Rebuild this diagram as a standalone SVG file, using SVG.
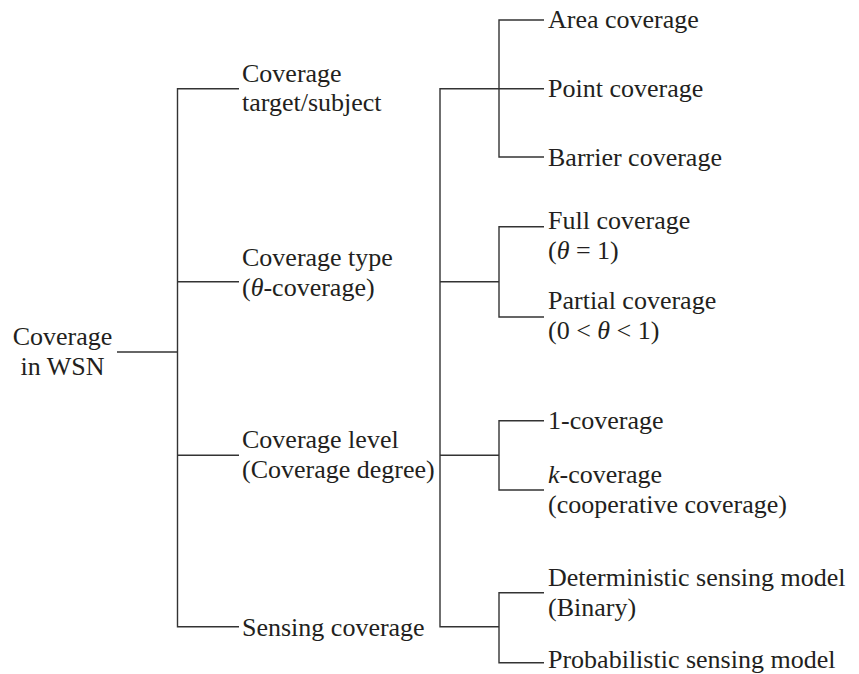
<svg xmlns="http://www.w3.org/2000/svg" width="859" height="674" viewBox="0 0 859 674">
<style>
text{font-family:"Liberation Serif","Times New Roman",serif;font-size:26px;fill:#231f20}
.c{text-anchor:middle}
.i{font-style:italic}
#connectors line,#connectors path{stroke:#333;stroke-width:1.4;fill:none}
</style>
<rect width="859" height="674" fill="#fff"/>
<g id="connectors">
<line x1="117" y1="352" x2="177.5" y2="352"/>
<path d="M239 88.7H177.5V626.7H239"/>
<line x1="177.5" y1="281.7" x2="239" y2="281.7"/>
<line x1="177.5" y1="455.3" x2="239" y2="455.3"/>
<path d="M544 88.7H440V626.7H499"/>
<line x1="440" y1="281.7" x2="499" y2="281.7"/>
<line x1="440" y1="455.3" x2="499" y2="455.3"/>
<path d="M544 20H499V157H544"/>
<path d="M544 226.7H499V317H544"/>
<path d="M544 420.7H499V490H544"/>
<path d="M544 592.7H499V662.7H544"/>
</g>
<g id="root"><text class="c" x="62.5" y="345">Coverage</text><text class="c" x="62.5" y="375">in WSN</text></g>
<g id="target"><text x="242" y="82">Coverage</text><text x="242" y="111">target/subject</text></g>
<g id="type"><text x="242" y="265.7">Coverage type</text><text x="242" y="296">(<tspan class="i">θ</tspan>-coverage)</text></g>
<g id="level"><text x="242" y="448.3">Coverage level</text><text x="242" y="478.3">(Coverage degree)</text></g>
<g id="sensing"><text x="242" y="636">Sensing coverage</text></g>
<g id="area"><text x="548" y="28.3">Area coverage</text></g>
<g id="point"><text x="548" y="96.7">Point coverage</text></g>
<g id="barrier"><text x="548" y="166">Barrier coverage</text></g>
<g id="full"><text x="548" y="229.3">Full coverage</text><text x="548" y="259.3">(<tspan class="i">θ</tspan> = 1)</text></g>
<g id="partial"><text x="548" y="309.3">Partial coverage</text><text x="548" y="339.3">(0 &lt; <tspan class="i">θ</tspan> &lt; 1)</text></g>
<g id="one"><text x="548" y="429">1-coverage</text></g>
<g id="kcov"><text x="548" y="483.3"><tspan class="i">k</tspan>-coverage</text><text x="548" y="513.3">(cooperative coverage)</text></g>
<g id="determ"><text x="548" y="585.7">Deterministic sensing model</text><text x="548" y="615.7">(Binary)</text></g>
<g id="prob"><text x="548" y="667.5">Probabilistic sensing model</text></g>
</svg>
